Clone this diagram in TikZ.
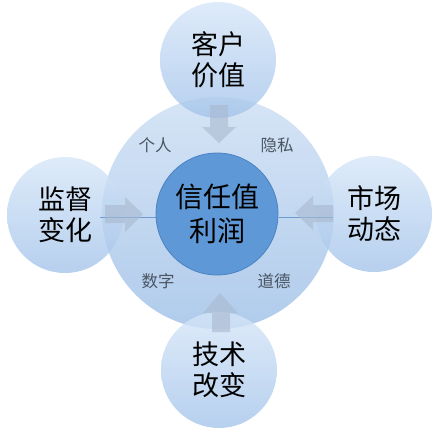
\documentclass[tikz,border=0pt]{standalone}
\usepackage{fontspec}
\newfontfamily\cjk{Noto Sans CJK SC}
\begin{document}
\begin{tikzpicture}[x=1pt,y=-1pt,
  sat/.style={circle,minimum size=116pt,inner sep=0pt,top color=satTop,bottom color=satBot,fill opacity=0.8,text opacity=1,font=\cjk\fontsize{27}{31}\selectfont,align=center,text=black},
  big/.style={circle,minimum size=232pt,inner sep=0pt,top color=bigTop,bottom color=bigBot,fill opacity=0.88},
  core/.style={circle,minimum size=122pt,inner sep=0pt,fill=coreFill,draw=coreEdge,line width=0.8pt,font=\cjk\fontsize{28}{34}\selectfont,align=center,text=black},
  lbl/.style={font=\cjk\fontsize{16.5}{18}\selectfont,text=lblGray},
  blk/.style={fill=arrowFill,fill opacity=0.62,draw=none},
  link/.style={draw=linkBlue,line width=1pt}]
\definecolor{satTop}{HTML}{D6E6F8}
\definecolor{satBot}{HTML}{A4C4EA}
\definecolor{bigTop}{HTML}{D0E1F5}
\definecolor{bigBot}{HTML}{A5C4E8}
\definecolor{coreFill}{HTML}{5F98D6}
\definecolor{coreEdge}{HTML}{4C82C2}
\definecolor{lblGray}{HTML}{4A5562}
\definecolor{arrowFill}{HTML}{A9BAD0}
\definecolor{linkBlue}{HTML}{6E9BD0}
\useasboundingbox (0,0) rectangle (436,432);
\node[big] (B) at (218,213) {};
\node[sat] (T) at (218,60) {客户\\价值};
\node[sat] (L) at (65,215) {监督\\变化};
\node[sat] (R) at (374,214) {市场\\动态};
\node[sat] (D) at (219,370) {技术\\改变};
% thin links
\draw[link] (100,217) -- (157,217);
\draw[link] (279,217) -- (333,217);
\node[core] (C) at (217,214) {信任值\\利润};
% block arrows
\draw[blk] (210,105) -- (228,105) -- (228,127) -- (236,127) -- (219,143) -- (202,127) -- (210,127) -- cycle;
\draw[blk] (212,332) -- (230,332) -- (230,313) -- (238,313) -- (220,293) -- (203,313) -- (212,313) -- cycle;
\draw[blk] (105,205) -- (125,205) -- (125,197) -- (143,214) -- (125,232) -- (125,223) -- (105,223) -- cycle;
\draw[blk] (333,205) -- (313,205) -- (313,196) -- (295,213) -- (313,230) -- (313,222) -- (333,222) -- cycle;
\node[lbl] (p1) at (155,145) {个人};
\node[lbl] (p2) at (277,145) {隐私};
\node[lbl] (p3) at (158,281) {数字};
\node[lbl] (p4) at (274,281) {道德};
\end{tikzpicture}
\end{document}
